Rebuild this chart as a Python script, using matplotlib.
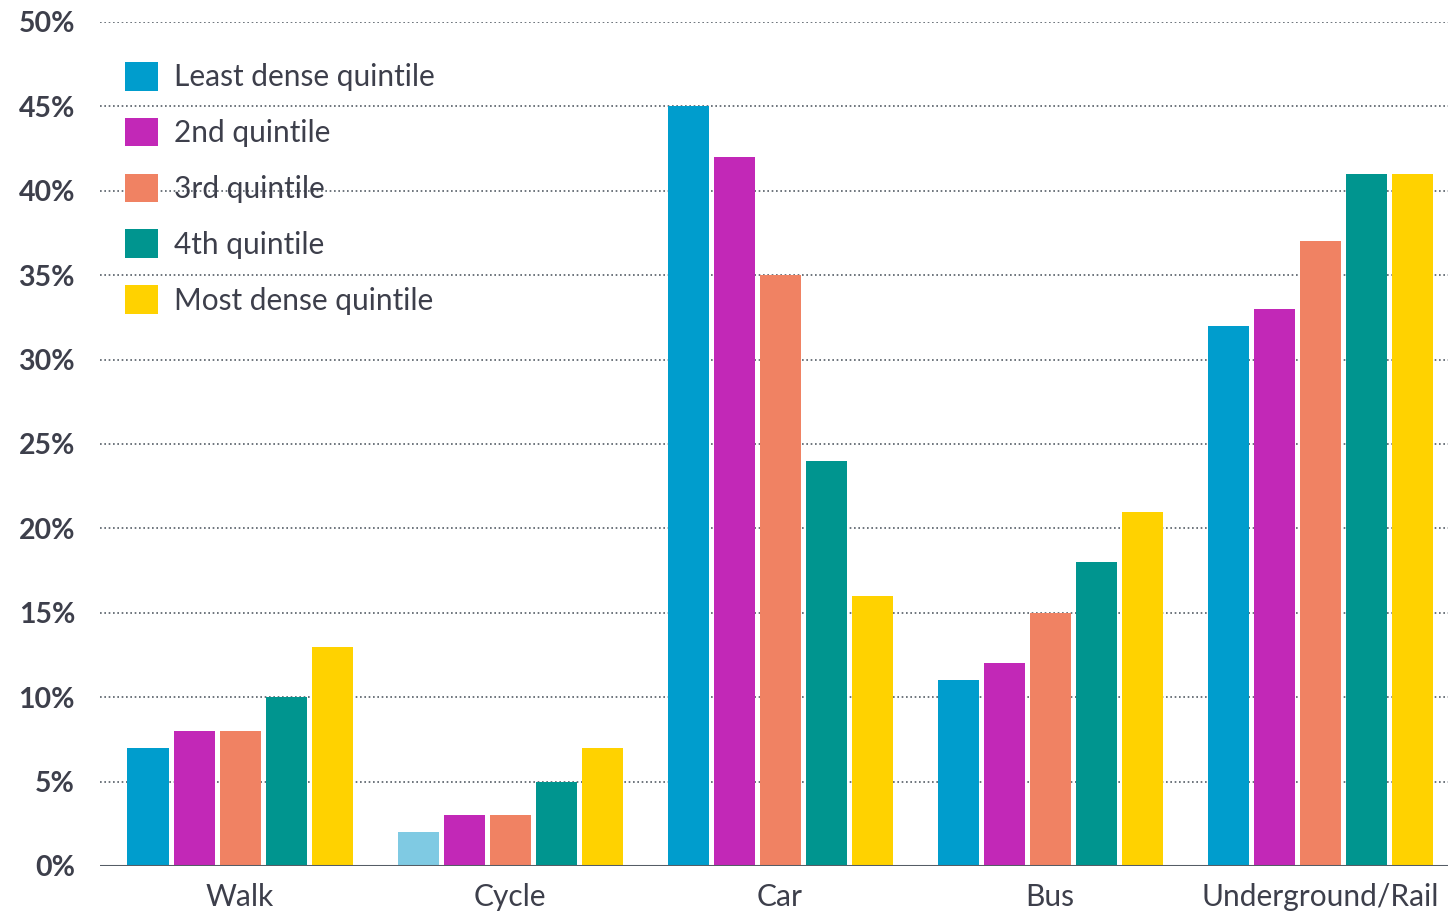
import matplotlib.pyplot as plt
from matplotlib.patches import Patch

# data
modes = ['Walk', 'Cycle', 'Car', 'Bus', 'Underground/Rail']
series = ['Least dense quintile', '2nd quintile', '3rd quintile', '4th quintile', 'Most dense quintile']
least_dense = [7, 2, 45, 11, 32]
second = [8, 3, 42, 12, 33]
third = [8, 3, 35, 15, 37]
fourth = [10, 5, 24, 18, 41]
most_dense = [13, 7, 16, 21, 41]
values = [least_dense, second, third, fourth, most_dense]
yticks = [0, 5, 10, 15, 20, 25, 30, 35, 40, 45, 50]

colors = ['#009DCD', '#C228B7', '#F08263', '#00958F', '#FFD200']
cycle_highlight = '#7FCAE3'  # the least-dense Cycle bar is drawn lighter
text_col = '#3D3F4B'

plt.rcParams['font.family'] = ['Lato', 'DejaVu Sans']

fig = plt.figure(figsize=(14.48, 9.15), dpi=100)
ax = fig.add_axes([100 / 1448, 1 - 866 / 915, 1 - 100 / 1448, (866 - 22) / 915])

pitch = 46 / 270
width = 41 / 270
x = list(range(len(modes)))
for i, (vals, c) in enumerate(zip(values, colors)):
    xs = [xi + (i - 2) * pitch for xi in x]
    bars = ax.bar(xs, vals, width=width, color=c, zorder=3, label=series[i])
    if i == 0:
        bars[1].set_facecolor(cycle_highlight)

ax.set_xlim(-140 / 270, (1448 - 240) / 270)
ax.set_ylim(0, 50)
ax.set_yticks(yticks)
ax.set_yticklabels([f'{t}%' for t in yticks], fontsize=20.5, fontweight='bold', color=text_col)
ax.set_xticks(x)
ax.set_xticklabels(modes, fontsize=21.5, color=text_col)
ax.tick_params(axis='y', length=0, pad=18)
ax.tick_params(axis='x', length=0, pad=12)

for t in yticks[1:]:
    ax.axhline(t, color='#555D66', linewidth=1.2, linestyle=(0, (1, 1.6)), zorder=1)
ax.axhline(0, color='#555D66', linewidth=2.2, zorder=4)

for s in ax.spines.values():
    s.set_visible(False)

handles = [Patch(facecolor=c) for c in colors]
leg = ax.legend(handles, series, loc='upper left', bbox_to_anchor=(125 / 1448, 1 - 62 / 915),
                bbox_transform=fig.transFigure, frameon=False, fontsize=21.5,
                handlelength=1.1, handleheight=1.1, handletextpad=0.55,
                labelspacing=0.88, borderpad=0, borderaxespad=0)
for txt in leg.get_texts():
    txt.set_color(text_col)

plt.savefig('out.png', dpi=100)
